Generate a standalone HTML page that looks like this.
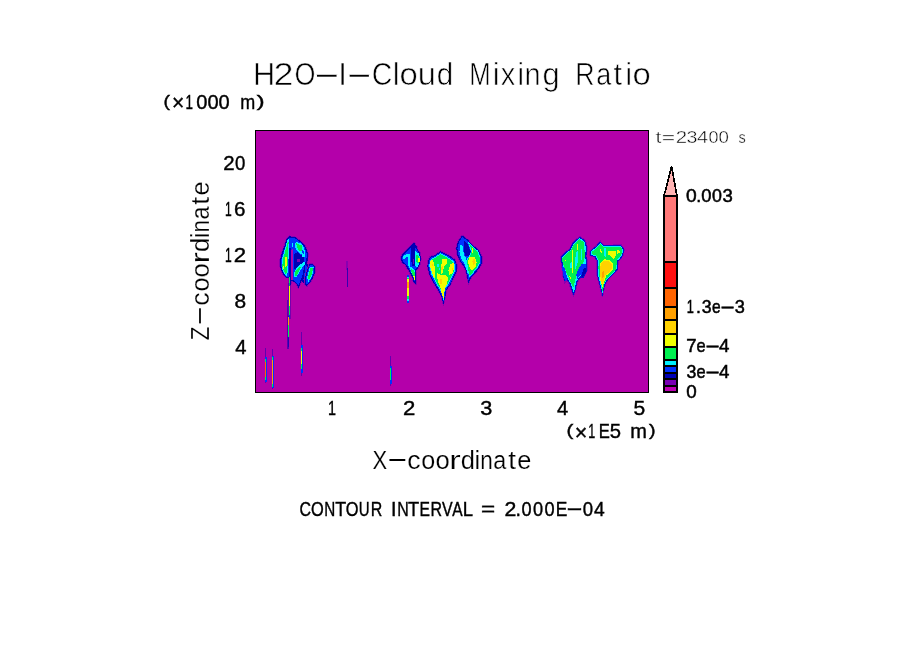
<!DOCTYPE html>
<html>
<head>
<meta charset="utf-8">
<title>H2O-I-Cloud Mixing Ratio</title>
<style>
html,body{margin:0;padding:0;background:#fff;}
body{width:904px;height:654px;overflow:hidden;}
svg{display:block;}
text{font-family:"Liberation Sans",sans-serif;fill:#000;}
.thin{stroke:#fff;stroke-width:1.2px;paint-order:fill stroke;}
.med{stroke:#000;stroke-width:0.4px;}
.bold{stroke:#000;stroke-width:0.5px;}
</style>
</head>
<body>
<svg width="904" height="654" viewBox="0 0 904 654">
<rect x="0" y="0" width="904" height="654" fill="#ffffff"/>

<!-- plot field -->
<g id="field" shape-rendering="crispEdges">
<rect x="255" y="130" width="394" height="263" fill="#000"/>
<rect x="256" y="131" width="392" height="261" fill="#b400aa"/>
</g>

<!-- blobs -->
<g id="blobs" shape-rendering="crispEdges">
<!-- blob 1 main -->
<polygon stroke="#8a00b0" stroke-width="1.5" paint-order="stroke" fill="#0000b4" points="289.8,236.2 295.7,237.5 301.3,241.5 305.8,247 308,253.5 307.5,261 306,265.3 304.3,272.8 302.6,278.1 300.4,283.8 298.3,288 296.5,284 294,281.8 291.4,280.8 290.5,285 289,285 288.5,277.6 285.8,277.6 282.3,273 280.1,266.4 280.1,260 281.7,253.5 284.4,246 286.5,239.4"/>
<polygon fill="#0032ff" points="289.8,237.4 295.5,238.6 300.6,242.3 304.8,247.5 306.8,253.6 306.3,260.8 304.9,265 303.2,272.5 301.6,277.7 299.6,282.5 298.3,285 297,283 294.4,280.8 291.8,279.8 290.6,276.6 286.2,276.6 283.3,272.5 281.3,266.2 281.3,260.1 282.8,253.8 285.5,246.4 287.5,240"/>
<!-- dark centre -->
<polygon fill="#0000b4" points="294,254 297.5,252 300,254.5 303.5,256.5 304.5,260 302,264 298,266.5 295,270 294,268"/>
<polygon fill="#0000b4" points="288.7,248 290.6,248 290.6,278 288.7,278"/>
<!-- magenta slit -->
<polygon fill="#b400aa" points="291,250 293,248 293.2,279.5 291,279.5"/>
<polygon fill="#7800b4" points="297,258.5 300,258.5 300,262 297,262"/>
<!-- left cyan/green/yellow -->
<polygon fill="#00f0ff" points="287.6,239.4 289,239.4 288.8,251.4 288.4,262.1 287.8,272.8 286.2,276.2 283.2,271.7 281.5,266.4 281.8,260 283.6,253.5 285.8,246"/>
<polygon fill="#00f050" points="287.7,242 288.6,242 288.3,251.4 287.8,262 287.2,271.5 286,274.5 283.9,271 282.4,266.2 282.7,260.3 284.4,254 286.4,247"/>
<polygon fill="#f0ff00" points="285.6,256.5 286.8,256.5 286.8,266 285.4,267 284.6,264 284.8,260"/>
<polygon fill="#f0ff00" points="283.2,265.5 284.2,265.5 284.2,268.5 283.2,268.5"/>
<!-- upper right cyan/green -->
<polygon fill="#00f0ff" points="295.6,242.1 299,242.6 302.3,244.4 304.3,248.8 305,254.2 304.3,257.6 302.3,256.9 301.6,254.2 299.6,253.5 296.9,250.8 295.2,246.8"/>
<polygon fill="#00f050" points="295.9,242.8 299.6,244.6 301.6,245.4 302.6,248.1 301.6,250.8 299.6,251.5 298.2,249.5 296.9,246.8"/>
<polygon fill="#0032ff" points="302.2,249.5 303.4,249.5 303.8,253.5 302.6,254"/>
<polygon fill="#00f0ff" points="292.2,243.4 293.2,243.4 293.2,247 292.2,247"/>
<!-- lower diagonal cyan/green -->
<polygon fill="#00f0ff" points="305.3,261 305.8,263.4 302.2,267.6 299,273 296.3,277.2 294,277.2 294,272.6 296.6,267.8 301,264"/>
<polygon fill="#00f050" points="295.6,270.6 299.3,267.3 301.2,266.7 298.4,272.3 296.2,276.2 294.8,276.2 294.8,272"/>
<!-- connection -->
<polygon fill="#0000b4" points="305,262 308.5,265 306.5,278 304.5,284 301.5,281 303,272.8"/>
<polygon fill="#0032ff" points="305.5,265 307.5,266.5 306,276 304.6,280.5 303.4,279.5 304.6,272"/>
<rect x="301.6" y="273" width="0.8" height="8" fill="#b400aa"/>
<rect x="303.6" y="268" width="0.7" height="10" fill="#b400aa"/>
<!-- blob 1 right lobe -->
<polygon stroke="#8a00b0" stroke-width="1.5" paint-order="stroke" fill="#0000b4" points="309.6,263.8 313,264.2 315.4,267.2 314.9,273 312.6,278.4 309.9,282.8 306.9,286.2 304.5,283.8 305.3,277 307,270.4"/>
<polygon fill="#0032ff" points="309.8,264.8 312.6,265.2 314.5,267.6 314,272.8 311.8,278 309.2,282.2 306.9,284.8 305.5,283.2 306.3,277 307.9,270.8"/>
<polygon fill="#00f0ff" points="310,266.6 313.6,266.8 313.2,272.8 311,278.1 308.6,281.8 307.2,278.3 308.2,272.6"/>
<polygon fill="#00f050" points="310.6,267.6 312.8,267.8 312.4,272.6 310.4,277.6 308.8,280 308,278 309,272.8"/>
<!-- blob 1 tail -->
<rect x="289" y="277" width="1" height="9" fill="#00f050"/>
<rect x="288" y="283" width="3" height="36" fill="#0000b4" opacity="0.35"/>
<rect x="289" y="286" width="1" height="20" fill="#f0ff00"/>
<rect x="289" y="306" width="1" height="9" fill="#00f050"/>
<rect x="289" y="315" width="1" height="3" fill="#0032ff"/>
<rect x="287" y="300" width="1" height="16" fill="#0000b4" opacity="0.5"/>
<rect x="287" y="316" width="2" height="33" fill="#0000b4" opacity="0.5"/>
<rect x="287.5" y="317" width="1" height="8" fill="#ffa000"/>
<rect x="287.5" y="325" width="1" height="12" fill="#00f050"/>
<rect x="287.5" y="337" width="1" height="10" fill="#0000b4" opacity="0.6"/>
<!-- streak A -->
<rect x="265" y="348" width="1" height="35" fill="#0000b4" opacity="0.45"/>
<rect x="264.5" y="357" width="2" height="25" fill="#0032ff"/>
<rect x="265" y="359" width="1" height="21" fill="#00f050"/>
<rect x="265" y="362" width="1" height="15" fill="#ff6400"/>
<!-- streak B -->
<rect x="272" y="349" width="1" height="40" fill="#0000b4" opacity="0.45"/>
<rect x="271.5" y="356" width="2" height="32" fill="#0032ff"/>
<rect x="272" y="357" width="1" height="30" fill="#00f050"/>
<rect x="272" y="360" width="1" height="24" fill="#ffa000"/>
<!-- streak C -->
<rect x="301" y="332" width="1" height="44" fill="#0000b4" opacity="0.45"/>
<rect x="300.5" y="345" width="2" height="28" fill="#0032ff"/>
<rect x="301" y="348" width="1" height="21" fill="#00f050"/>
<rect x="301" y="351" width="1" height="13" fill="#f0ff00"/>
<!-- faint streak -->
<rect x="346" y="261" width="2" height="9" fill="#7800b4" opacity="0.7"/>
<rect x="346.5" y="268" width="1.5" height="19" fill="#0000b4" opacity="0.7"/>
<!-- streak D -->
<rect x="390" y="356" width="1" height="30" fill="#0000b4" opacity="0.45"/>
<rect x="389.5" y="366" width="2" height="18" fill="#0032ff"/>
<rect x="390" y="368" width="1" height="12" fill="#00f050"/>
<!-- streak E -->
<rect x="407" y="274.6" width="2" height="28.6" fill="#0032ff"/>
<rect x="407" y="277" width="2" height="24" fill="#00f0ff"/>
<rect x="407.2" y="277.5" width="1.7" height="21" fill="#00f050"/>
<rect x="407.3" y="279" width="1.6" height="17" fill="#f0ff00"/>
<rect x="407.4" y="282" width="1.5" height="6" fill="#ffa000"/>

<!-- blob 2 -->
<polygon stroke="#8a00b0" stroke-width="1.5" paint-order="stroke" fill="#0000b4" points="413.9,242.6 417.2,246.5 417.6,249.7 420,252.8 420.9,258.7 420.1,264.5 417.6,268.7 415.7,270.8 416.1,276.2 416.1,284.2 413.5,282.2 412.2,277.2 410.2,273.3 407.4,268.6 405.2,264.8 402,262.4 400.6,257.9 402.7,253.6 406.7,250.3 410.3,246.4"/>
<polygon fill="#0032ff" points="413.9,244.4 416.2,247 416.6,250.2 419,253.3 419.8,258.7 419,264.2 416.7,268 414.6,270.3 415,276.2 415.2,281.8 414.3,281 413.2,276.8 411.2,272.7 408.4,268 406.1,264 403,261.4 401.8,257.9 403.7,254.3 407.5,251.2 411,247.4"/>
<polygon fill="#0000b4" points="411.5,245.2 413.9,243.6 415.9,245.2 415.1,250.7 414.7,265.9 411.9,265.9 411.1,257.9 410.7,249.9"/>
<polygon fill="#7800b4" points="412.7,258.7 413.5,258.7 413.5,264.3 412.7,264.3"/>
<polygon fill="#00f0ff" points="402.4,257.9 404,255.1 409.5,253.5 410.3,253.9 409.9,258.7 409.5,264.3 410.7,268.3 409.1,267.5 407.9,263.5 407.9,257.9 406.7,256.7 404,259.9"/>
<polygon fill="#00f0ff" points="415.5,251.1 419.1,253.9 419.9,258.7 419.1,264.3 417.1,267.1 415.1,265.9 415.1,256"/>
<polygon fill="#00f050" points="416.3,255.1 419.1,255.9 419.5,261.9 417.9,263.9 416.3,261.9"/>
<polygon fill="#f0ff00" points="418.1,258.3 419.7,258.3 419.7,261.5 418.1,261.5"/>
<polygon fill="#00f0ff" points="409.5,267.5 411.9,267.1 414.7,270.6 415.1,276.5 413.1,277 411.9,273.5"/>
<polygon fill="#00f050" points="410.7,268.7 413.9,270.3 415.1,273 415.1,276.2 413.1,276.2 411.9,273"/>
<polygon fill="#f0ff00" points="413.3,276.2 415.1,276.2 415.1,280.2 414,280.2"/>

<!-- blob 3 -->
<polygon stroke="#8a00b0" stroke-width="1.5" paint-order="stroke" fill="#0000b4" points="440.4,251.2 446.2,253.9 450.6,256.5 454.9,259.6 457,264.9 456.6,272.2 453.9,277.6 450.4,284.8 446.4,290 445.5,296 443.4,304 441.2,296 438.5,290.9 434.1,283.8 429.6,274.9 427.4,266.6 427.8,261.2 430.2,256.7 435,255.2"/>
<polygon fill="#0032ff" points="440.4,252.2 446,254.8 450.3,257.4 454.3,260.2 456.1,265 455.7,272 453.1,277.2 449.7,284.3 445.7,289.6 444.8,295.8 443.4,302 442,295.8 439.3,290.4 434.9,283.3 430.5,274.6 428.3,266.6 428.7,261.4 430.9,257.5 435.1,256.1"/>
<polygon fill="#00f0ff" points="440.4,253.3 445.7,255.8 449.9,258.4 453.6,261 455.1,265.2 454.7,271.7 452.2,276.8 448.9,283.8 444.9,289.2 444.1,295.6 443.4,300.5 442.7,295.6 440.1,290 435.8,282.9 431.4,274.3 429.3,266.6 429.7,261.7 431.7,258.4 435.2,257.2"/>
<polygon fill="#00f050" points="440.4,254.3 445.4,256.7 449.5,259.3 452.9,261.8 454.2,265.4 453.8,271.4 451.4,276.4 448.1,283.3 444.2,288.7 443.6,295 443.4,299 443,295 440.8,289.6 436.6,282.5 432.3,274 430.2,266.6 430.6,262 432.4,259.2 435.3,258.2"/>
<polygon fill="#f0ff00" points="429.6,261.3 432.4,260 434.2,264 435.1,269.3 435.1,279 433.5,277 431.5,271.1 429.6,265.8"/>
<polygon fill="#f0ff00" points="442.2,258.7 447.5,259.1 447.1,263.1 444,266.6 442.2,273.8 440.9,274.6 441.3,265.8"/>
<polygon fill="#f0ff00" points="450.6,264 453.8,263.1 454.2,268.4 452.4,273.8 449.3,274.6 448.4,270.2"/>
<polygon fill="#f0ff00" points="437.3,272.9 441.8,275.5 445.8,274.6 448,278.2 447.1,283.5 444.9,288 444,294.2 443.3,299 441.8,294.2 440.4,287.1 438.2,282.6 437.3,277.3"/>
<polygon fill="#ffd200" points="431.5,263.5 432.9,263.5 433.3,266 431.9,266"/>
<polygon fill="#ffd200" points="451.5,267.5 452.9,267.5 452.9,271 451.5,271"/>
<polygon fill="#ffd200" points="439.5,279 441.8,279 441.8,283.5 439.5,283.5"/>
<polygon fill="#ffd200" points="441.3,267 442.7,265.5 442.7,269.5 441.3,270"/>
<polygon fill="#00f0ff" points="437.3,263.5 438.7,263.5 438.7,266.6 437.3,266.6"/>
<polygon fill="#00f0ff" points="439.1,268.4 440,268.4 440,269.8 439.1,269.8"/>

<!-- blob 4 -->
<polygon stroke="#8a00b0" stroke-width="1.5" paint-order="stroke" fill="#0000b4" points="462.1,235.2 467.9,239.8 473.2,245.6 478.6,249.9 482,256.5 482,263.4 478.7,268.9 474.4,274.3 470.6,278.5 468.5,283 467.2,277.3 465.9,270.8 463.2,265.7 460,261.4 457.2,254.8 456.2,248.2 457.8,241.6"/>
<polygon fill="#0032ff" points="462.3,237 467.2,240.6 472.5,246.4 477.8,250.7 480.9,256.8 480.9,263 477.8,268.2 473.5,273.6 469.8,277.8 468.5,280.5 467.9,277 466.8,270.4 464.1,265 460.9,260.7 458.3,254.4 457.4,248.2 458.9,242.2"/>
<polygon fill="#00f0ff" points="460.5,245 463.2,246 463.7,254.6 466.4,257.8 466.5,262 468.3,271 468.3,277 467,271 465,265 461,257.8 459.4,251.4"/>
<polygon fill="#0000b4" points="463.7,240.7 467.5,243.9 470.7,251.4 469.1,255.7 465.3,255.7 463.7,249.3"/>
<polygon fill="#00f0ff" points="468,241.8 473.3,246.8 478.2,251 480.4,257.4 480.4,262.8 477.4,267.8 473.1,273.2 469.4,277.4 468,272.8 466.9,266.4 465.6,261 468.6,256.7 471.2,251.4 469.1,246"/>
<polygon fill="#00f050" points="468.6,243.6 473.1,247.8 477.6,252 479.6,257.6 479.6,262.4 476.6,267.4 472.6,272.4 469.8,275.8 468.8,272.4 467.8,266.2 466.6,261 469.4,257 472,251.4 470,246"/>
<polygon fill="#f0ff00" points="469.6,256.7 474.4,256.7 476.6,262.1 475.5,267.4 471.7,270.6 469.1,266.4 468,261"/>
<polygon fill="#ffd200" points="473,259 474.6,259 474.8,264 473.2,265 472.4,262"/>
<polygon fill="#f0ff00" points="471.6,248 472.6,248 472.6,253 471.6,253"/>

<!-- blob 5 -->
<polygon stroke="#8a00b0" stroke-width="1.5" paint-order="stroke" fill="#0010d0" points="579.9,236.6 585.3,240.8 587,247 586.4,256.6 587.5,264.1 587,270.7 583.6,277.6 580.2,277.6 577.2,282.6 575.6,290 573.5,295 571.4,290 569.3,283.6 567.1,279.9 564.8,282.2 562.8,275 562.2,267.4 560.6,257.5 564.6,253 569.9,248.7 572.5,243.5 576.3,239.5"/>
<polygon fill="#00f0ff" points="579.8,238.2 584.3,241.6 585.8,247.2 585.2,256.6 586.3,264.1 585.8,270.4 582.8,276.4 579.6,276.4 576.2,281.8 574.6,289.6 573.5,292 572.6,289.6 570.4,283 567.2,278 565.2,279.6 564,274.8 563.4,267.2 561.9,258 565.4,254 570.8,249.6 573.5,244.2 577,240.6"/>
<polygon fill="#00f050" points="579.5,239.2 583.8,242.4 584.9,253.4 584.4,260 581.6,265.4 577.3,272.8 575.2,280.2 573.4,287.5 572.2,285.6 570.2,281.3 567.5,275 564.3,267.5 561.6,258.5 565.6,254.6 571,250.3 573.8,244.4"/>
<polygon fill="#00f0ff" points="575.8,253 577.6,251 578,262 576,268 574.6,270"/>
<polygon fill="#00f0ff" points="569.8,263 571.6,262 571.8,267.5 570,268"/>
<polygon fill="#00f0ff" points="581,249 582.4,249 582.4,259 581,261"/>
<polygon fill="#f0ff00" points="572,250.2 573,250.2 573,272.6 572,272.6"/>
<polygon fill="#f0ff00" points="577.2,244 578,244 578,250 577.2,250"/>
<polygon fill="#f0ff00" points="569.2,275.5 570.2,275.5 571.2,279 570.2,279"/>
<polygon fill="#f0ff00" points="565,260 566.2,260 566.2,261.2 565,261.2"/>
<polygon fill="#0032ff" points="581.8,263.5 586.2,263.8 585.8,270.5 583,276 580.5,274.8 577.3,279.1 576.2,274.8 578.3,269.4"/>
<polygon fill="#0000b4" points="584,268 586.4,268 585.8,272 583.2,276.6 581,276.4"/>

<polygon fill="#0032ff" points="562,265.4 564.5,267.8 566.3,274 567.5,278.9 565.7,281.3 563.9,277.6 562.6,271.5"/>

<!-- blob 6 -->
<polygon stroke="#8a00b0" stroke-width="1.5" paint-order="stroke" fill="#0010d0" points="600.3,241.4 603.7,245.3 612.1,245.3 620.9,244.8 623.9,249 623.4,254.7 620.6,259.1 618,261.3 617.5,269.7 612.5,275.2 608.2,279.5 605.1,284.6 603.6,290.9 602.5,296.5 600.9,289.9 598.7,281.4 597,274.9 596.5,267.3 597,261.1 594.6,257.1 590.1,255.4 590.1,251 595.6,246.5"/>
<polygon fill="#00f0ff" points="600.3,242.8 603.4,246.3 612.1,246.3 620.4,245.9 622.9,249.3 622.4,254.4 619.8,258.6 617,260.8 616.5,269.3 611.8,274.5 607.4,278.8 604.3,284.1 602.8,290.6 602.5,293.5 601.8,289.7 599.6,281.1 598,274.8 597.5,267.3 598,260.9 595.4,256.3 591.1,254.7 591.1,251.5 596,247.4"/>
<polygon fill="#00f050" points="600.3,243.6 603.2,247 612.1,247 620.2,246.5 622.2,249.5 621.7,254.1 619,258 616.8,260 616.3,268.7 611.4,274 607,278.3 604.5,283.5 603,289.9 602.6,291 601,282.3 598.9,274.8 598.4,267.3 599,260.5 596.1,255.7 592,254.2 592,251.7 596.5,248.3"/>
<polygon fill="#00f0ff" points="604.1,248 605.6,248 606.4,257.7 604.6,257"/>
<polygon fill="#f0ff00" points="608.3,251.3 615.8,250.7 615.8,256.1 613.7,258.7 611,256.6 608.3,254.5"/>
<polygon fill="#f0ff00" points="616.9,249.1 620.6,252.3 617.4,253.9"/>
<polygon fill="#f0ff00" points="599.8,249.1 601.2,249.1 601.9,252.9 600.6,252.9"/>
<polygon fill="#f0ff00" points="603.6,259.4 608.8,259.6 613.2,263.6 613.2,268.8 609.4,273.4 606,275.6 604.8,280.6 602.6,287 600.4,280.4 599.5,275 599.5,267.8 600.4,263.4"/>
<polygon fill="#ffd200" points="604.1,260.9 608.3,260.9 612.1,264.1 612.1,268.4 608.9,272.6 605.1,274.8 604.1,280.1 602.5,285.5 600.9,280.1 600.2,274.8 600.2,268.4 600.9,264.1"/>
<polygon fill="#ffa000" points="601.6,272 603.6,271 603.8,276.5 602.6,278 601.6,276.5"/>
</g>

<!-- colour bar -->
<g id="cbar" shape-rendering="crispEdges">
<rect x="663" y="195" width="15" height="198" fill="#000"/>
<rect x="665" y="197" width="11" height="64" fill="#ff7878"/>
<rect x="665" y="263" width="11" height="24" fill="#ff1010"/>
<rect x="665" y="289" width="11" height="17" fill="#ff6400"/>
<rect x="665" y="308" width="11" height="11" fill="#ffa000"/>
<rect x="665" y="321" width="11" height="12" fill="#ffd200"/>
<rect x="665" y="335" width="11" height="11" fill="#f0ff00"/>
<rect x="665" y="348" width="11" height="11" fill="#00f050"/>
<rect x="665" y="361" width="11" height="4" fill="#00f0ff"/>
<rect x="665" y="367" width="11" height="5" fill="#0032ff"/>
<rect x="665" y="374" width="11" height="4" fill="#0000b4"/>
<rect x="665" y="380" width="11" height="5" fill="#7800b4"/>
<rect x="665" y="387" width="11" height="4" fill="#be00b4"/>
</g>
<polygon points="664,196 671.6,166.5 677,196" fill="#ffb4b4" stroke="#000" stroke-width="1.7" stroke-linejoin="miter" shape-rendering="crispEdges"/>

<!-- labels -->
<g id="labels">
<text class="thin" font-size="31" style="stroke-width:0.6px"><tspan x="252.97" y="85.00" textLength="22.24" lengthAdjust="spacingAndGlyphs">H</tspan><tspan x="273.59" y="85.00" textLength="20.02" lengthAdjust="spacingAndGlyphs">2</tspan><tspan x="294.52" y="85.00" textLength="20.97" lengthAdjust="spacingAndGlyphs">O</tspan><tspan x="312.22" y="84.00" textLength="29.05" lengthAdjust="spacingAndGlyphs">-</tspan><tspan x="338.29" y="85.00" textLength="8.61" lengthAdjust="spacingAndGlyphs">I</tspan><tspan x="345.10" y="84.00" textLength="28.51" lengthAdjust="spacingAndGlyphs">-</tspan><tspan x="371.86" y="85.00" textLength="20.53" lengthAdjust="spacingAndGlyphs">C</tspan><tspan x="392.75" y="85.00" textLength="6.89" lengthAdjust="spacingAndGlyphs">l</tspan><tspan x="399.62" y="85.00" textLength="18.26" lengthAdjust="spacingAndGlyphs">o</tspan><tspan x="417.78" y="85.00" textLength="18.20" lengthAdjust="spacingAndGlyphs">u</tspan><tspan x="436.86" y="85.00" textLength="16.45" lengthAdjust="spacingAndGlyphs">d</tspan> <tspan x="469.19" y="85.00" textLength="21.42" lengthAdjust="spacingAndGlyphs">M</tspan><tspan x="492.76" y="85.00" textLength="6.89" lengthAdjust="spacingAndGlyphs">i</tspan><tspan x="500.87" y="85.00" textLength="14.54" lengthAdjust="spacingAndGlyphs">x</tspan><tspan x="517.16" y="85.00" textLength="6.89" lengthAdjust="spacingAndGlyphs">i</tspan><tspan x="524.58" y="85.00" textLength="16.10" lengthAdjust="spacingAndGlyphs">n</tspan><tspan x="542.40" y="85.00" textLength="17.19" lengthAdjust="spacingAndGlyphs">g</tspan> <tspan x="575.20" y="85.00" textLength="19.34" lengthAdjust="spacingAndGlyphs">R</tspan><tspan x="596.15" y="85.00" textLength="15.05" lengthAdjust="spacingAndGlyphs">a</tspan><tspan x="613.43" y="85.00" textLength="8.59" lengthAdjust="spacingAndGlyphs">t</tspan><tspan x="625.16" y="85.00" textLength="6.89" lengthAdjust="spacingAndGlyphs">i</tspan><tspan x="632.42" y="85.00" textLength="18.26" lengthAdjust="spacingAndGlyphs">o</tspan></text>
<text class="thin" font-size="25.5" style="stroke-width:0.2px"><tspan x="372.41" y="468.80" textLength="14.65" lengthAdjust="spacingAndGlyphs">X</tspan><tspan x="385.96" y="466.90" textLength="22.78" lengthAdjust="spacingAndGlyphs">-</tspan><tspan x="407.17" y="468.80" textLength="13.34" lengthAdjust="spacingAndGlyphs">c</tspan><tspan x="421.34" y="468.80" textLength="14.02" lengthAdjust="spacingAndGlyphs">o</tspan><tspan x="435.42" y="468.80" textLength="14.25" lengthAdjust="spacingAndGlyphs">o</tspan><tspan x="449.32" y="468.80" textLength="11.46" lengthAdjust="spacingAndGlyphs">r</tspan><tspan x="460.83" y="468.80" textLength="14.22" lengthAdjust="spacingAndGlyphs">d</tspan><tspan x="474.57" y="468.80" textLength="5.67" lengthAdjust="spacingAndGlyphs">i</tspan><tspan x="480.20" y="468.80" textLength="12.57" lengthAdjust="spacingAndGlyphs">n</tspan><tspan x="493.31" y="468.80" textLength="12.99" lengthAdjust="spacingAndGlyphs">a</tspan><tspan x="508.18" y="468.80" textLength="7.72" lengthAdjust="spacingAndGlyphs">t</tspan><tspan x="517.22" y="468.80" textLength="14.10" lengthAdjust="spacingAndGlyphs">e</tspan></text>
<text class="thin" font-size="25.5" style="stroke-width:0.2px" transform="translate(209.2,339.5) rotate(-90)"><tspan x="-0.82" y="0.00" textLength="13.83" lengthAdjust="spacingAndGlyphs">Z</tspan><tspan x="12.81" y="-1.90" textLength="21.69" lengthAdjust="spacingAndGlyphs">-</tspan><tspan x="33.87" y="0.00" textLength="13.34" lengthAdjust="spacingAndGlyphs">c</tspan><tspan x="48.04" y="0.00" textLength="14.02" lengthAdjust="spacingAndGlyphs">o</tspan><tspan x="62.12" y="0.00" textLength="14.25" lengthAdjust="spacingAndGlyphs">o</tspan><tspan x="76.02" y="0.00" textLength="11.46" lengthAdjust="spacingAndGlyphs">r</tspan><tspan x="87.53" y="0.00" textLength="14.22" lengthAdjust="spacingAndGlyphs">d</tspan><tspan x="101.27" y="0.00" textLength="5.67" lengthAdjust="spacingAndGlyphs">i</tspan><tspan x="106.90" y="0.00" textLength="12.57" lengthAdjust="spacingAndGlyphs">n</tspan><tspan x="120.01" y="0.00" textLength="12.99" lengthAdjust="spacingAndGlyphs">a</tspan><tspan x="134.88" y="0.00" textLength="7.72" lengthAdjust="spacingAndGlyphs">t</tspan><tspan x="143.92" y="0.00" textLength="14.10" lengthAdjust="spacingAndGlyphs">e</tspan></text>
<text class="thin" font-size="17" style="stroke-width:0.42px"><tspan x="655.57" y="143.00" textLength="5.90" lengthAdjust="spacingAndGlyphs">t</tspan><tspan x="661.77" y="143.00" textLength="13.37" lengthAdjust="spacingAndGlyphs">=</tspan><tspan x="675.86" y="143.00" textLength="11.38" lengthAdjust="spacingAndGlyphs">2</tspan><tspan x="686.64" y="143.00" textLength="10.93" lengthAdjust="spacingAndGlyphs">3</tspan><tspan x="697.13" y="143.00" textLength="11.17" lengthAdjust="spacingAndGlyphs">4</tspan><tspan x="708.59" y="143.00" textLength="10.03" lengthAdjust="spacingAndGlyphs">0</tspan><tspan x="718.56" y="143.00" textLength="10.38" lengthAdjust="spacingAndGlyphs">0</tspan> <tspan x="738.39" y="143.00" textLength="7.25" lengthAdjust="spacingAndGlyphs">s</tspan></text>
<text class="med" font-size="19.6"><tspan x="163.61" y="106.80" font-size="16.1" textLength="6.41" lengthAdjust="spacingAndGlyphs">(</tspan><tspan x="172.04" y="110.35" font-size="22.4" textLength="12.31" lengthAdjust="spacingAndGlyphs">×</tspan><tspan x="185.58" y="108.60" textLength="7.48" lengthAdjust="spacingAndGlyphs">1</tspan><tspan x="196.32" y="108.60" textLength="11.17" lengthAdjust="spacingAndGlyphs">0</tspan><tspan x="207.52" y="108.60" textLength="11.17" lengthAdjust="spacingAndGlyphs">0</tspan><tspan x="218.52" y="108.60" textLength="11.17" lengthAdjust="spacingAndGlyphs">0</tspan> <tspan x="240.31" y="108.60" textLength="14.98" lengthAdjust="spacingAndGlyphs">m</tspan><tspan x="256.66" y="106.80" font-size="16.1" textLength="7.79" lengthAdjust="spacingAndGlyphs">)</tspan></text>
<text class="med" font-size="19.6"><tspan x="566.44" y="436.00" font-size="16.1" textLength="6.78" lengthAdjust="spacingAndGlyphs">(</tspan><tspan x="574.71" y="439.55" font-size="22.4" textLength="12.58" lengthAdjust="spacingAndGlyphs">×</tspan><tspan x="588.25" y="437.80" textLength="6.97" lengthAdjust="spacingAndGlyphs">1</tspan><tspan x="598.64" y="437.80" textLength="11.08" lengthAdjust="spacingAndGlyphs">E</tspan><tspan x="609.69" y="437.80" textLength="11.26" lengthAdjust="spacingAndGlyphs">5</tspan> <tspan x="630.17" y="437.80" textLength="16.64" lengthAdjust="spacingAndGlyphs">m</tspan><tspan x="649.09" y="436.00" font-size="16.1" textLength="6.53" lengthAdjust="spacingAndGlyphs">)</tspan></text>
<text class="med" font-size="19.6"><tspan x="223.37" y="170.00" textLength="11.35" lengthAdjust="spacingAndGlyphs">2</tspan><tspan x="235.07" y="170.00" textLength="10.35" lengthAdjust="spacingAndGlyphs">0</tspan></text>
<text class="med" font-size="19.6"><tspan x="224.88" y="216.00" textLength="6.71" lengthAdjust="spacingAndGlyphs">1</tspan><tspan x="233.95" y="216.00" textLength="11.45" lengthAdjust="spacingAndGlyphs">6</tspan></text>
<text class="med" font-size="19.6"><tspan x="224.88" y="262.00" textLength="6.71" lengthAdjust="spacingAndGlyphs">1</tspan><tspan x="233.88" y="262.00" textLength="12.33" lengthAdjust="spacingAndGlyphs">2</tspan></text>
<text class="med" font-size="19.6"><tspan x="234.59" y="308.00" textLength="11.62" lengthAdjust="spacingAndGlyphs">8</tspan></text>
<text class="med" font-size="19.6"><tspan x="235.24" y="354.00" textLength="11.26" lengthAdjust="spacingAndGlyphs">4</tspan></text>
<text class="med" font-size="19.6"><tspan x="328.10" y="415.00" textLength="8.00" lengthAdjust="spacingAndGlyphs">1</tspan></text>
<text class="med" font-size="19.6"><tspan x="403.08" y="415.00" textLength="12.33" lengthAdjust="spacingAndGlyphs">2</tspan></text>
<text class="med" font-size="19.6"><tspan x="480.37" y="415.00" textLength="12.08" lengthAdjust="spacingAndGlyphs">3</tspan></text>
<text class="med" font-size="19.6"><tspan x="557.14" y="415.00" textLength="11.26" lengthAdjust="spacingAndGlyphs">4</tspan></text>
<text class="med" font-size="19.6"><tspan x="633.46" y="415.00" textLength="11.73" lengthAdjust="spacingAndGlyphs">5</tspan></text>
<text class="med" font-size="19.6"><tspan x="299.39" y="516.00" textLength="11.52" lengthAdjust="spacingAndGlyphs">C</tspan><tspan x="311.02" y="516.00" textLength="12.76" lengthAdjust="spacingAndGlyphs">O</tspan><tspan x="324.35" y="516.00" textLength="10.99" lengthAdjust="spacingAndGlyphs">N</tspan><tspan x="335.20" y="516.00" textLength="10.91" lengthAdjust="spacingAndGlyphs">T</tspan><tspan x="345.82" y="516.00" textLength="12.76" lengthAdjust="spacingAndGlyphs">O</tspan><tspan x="358.75" y="516.00" textLength="10.81" lengthAdjust="spacingAndGlyphs">U</tspan><tspan x="370.79" y="516.00" textLength="11.55" lengthAdjust="spacingAndGlyphs">R</tspan> <tspan x="391.08" y="516.00" textLength="5.45" lengthAdjust="spacingAndGlyphs">I</tspan><tspan x="397.19" y="516.00" textLength="11.51" lengthAdjust="spacingAndGlyphs">N</tspan><tspan x="407.99" y="516.00" textLength="11.13" lengthAdjust="spacingAndGlyphs">T</tspan><tspan x="419.51" y="516.00" textLength="10.46" lengthAdjust="spacingAndGlyphs">E</tspan><tspan x="430.39" y="516.00" textLength="11.55" lengthAdjust="spacingAndGlyphs">R</tspan><tspan x="441.93" y="516.00" textLength="10.64" lengthAdjust="spacingAndGlyphs">V</tspan><tspan x="452.17" y="516.00" textLength="10.36" lengthAdjust="spacingAndGlyphs">A</tspan><tspan x="462.79" y="516.00" textLength="9.59" lengthAdjust="spacingAndGlyphs">L</tspan> <tspan x="480.91" y="516.00" textLength="14.18" lengthAdjust="spacingAndGlyphs">=</tspan> <tspan x="504.63" y="516.00" textLength="11.84" lengthAdjust="spacingAndGlyphs">2</tspan><tspan x="515.48" y="516.00" textLength="5.45" lengthAdjust="spacingAndGlyphs">.</tspan><tspan x="521.39" y="516.00" textLength="10.12" lengthAdjust="spacingAndGlyphs">0</tspan><tspan x="532.99" y="516.00" textLength="10.12" lengthAdjust="spacingAndGlyphs">0</tspan><tspan x="544.49" y="516.00" textLength="10.12" lengthAdjust="spacingAndGlyphs">0</tspan><tspan x="555.68" y="516.00" textLength="11.57" lengthAdjust="spacingAndGlyphs">E</tspan><tspan x="566.04" y="514.50" textLength="16.91" lengthAdjust="spacingAndGlyphs">-</tspan><tspan x="582.87" y="516.00" textLength="10.35" lengthAdjust="spacingAndGlyphs">0</tspan><tspan x="594.06" y="516.00" textLength="10.71" lengthAdjust="spacingAndGlyphs">4</tspan></text>
<text class="bold" font-size="17.8"><tspan x="686.10" y="202.00" textLength="10.70" lengthAdjust="spacingAndGlyphs">0</tspan><tspan x="696.13" y="202.00" textLength="4.95" lengthAdjust="spacingAndGlyphs">.</tspan><tspan x="701.23" y="202.00" textLength="10.24" lengthAdjust="spacingAndGlyphs">0</tspan><tspan x="711.96" y="202.00" textLength="9.89" lengthAdjust="spacingAndGlyphs">0</tspan><tspan x="722.54" y="202.00" textLength="10.32" lengthAdjust="spacingAndGlyphs">3</tspan></text>
<text class="bold" font-size="17.8"><tspan x="686.68" y="313.00" textLength="7.09" lengthAdjust="spacingAndGlyphs">1</tspan><tspan x="695.93" y="313.00" textLength="4.95" lengthAdjust="spacingAndGlyphs">.</tspan><tspan x="701.68" y="313.00" textLength="9.85" lengthAdjust="spacingAndGlyphs">3</tspan><tspan x="712.09" y="313.00" textLength="8.65" lengthAdjust="spacingAndGlyphs">e</tspan><tspan x="720.03" y="313.00" textLength="15.14" lengthAdjust="spacingAndGlyphs">-</tspan><tspan x="734.76" y="313.00" textLength="10.09" lengthAdjust="spacingAndGlyphs">3</tspan></text>
<text class="bold" font-size="17.8"><tspan x="686.30" y="352.00" textLength="10.28" lengthAdjust="spacingAndGlyphs">7</tspan><tspan x="696.55" y="352.00" textLength="9.13" lengthAdjust="spacingAndGlyphs">e</tspan><tspan x="704.93" y="352.00" textLength="15.14" lengthAdjust="spacingAndGlyphs">-</tspan><tspan x="718.92" y="352.00" textLength="10.37" lengthAdjust="spacingAndGlyphs">4</tspan></text>
<text class="bold" font-size="17.8"><tspan x="686.58" y="378.00" textLength="9.85" lengthAdjust="spacingAndGlyphs">3</tspan><tspan x="696.55" y="378.00" textLength="9.13" lengthAdjust="spacingAndGlyphs">e</tspan><tspan x="704.93" y="378.00" textLength="15.14" lengthAdjust="spacingAndGlyphs">-</tspan><tspan x="718.92" y="378.00" textLength="10.37" lengthAdjust="spacingAndGlyphs">4</tspan></text>
<text class="bold" font-size="17.8"><tspan x="686.31" y="398.00" textLength="10.47" lengthAdjust="spacingAndGlyphs">0</tspan></text>
</g>
</svg>
</body>
</html>
